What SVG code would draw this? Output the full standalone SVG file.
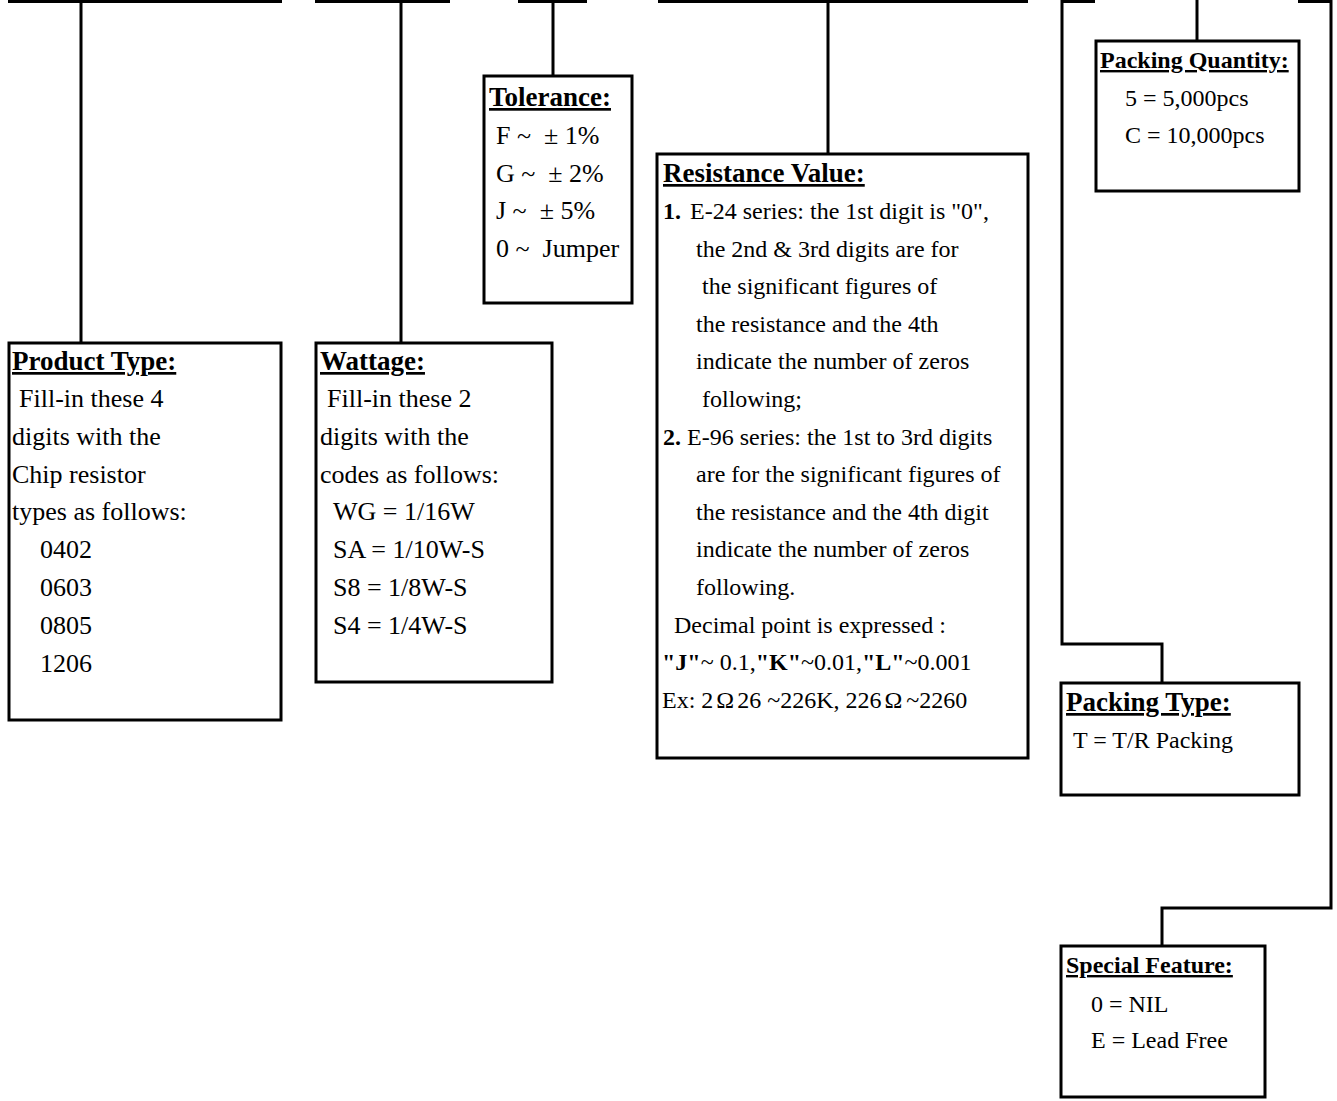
<svg xmlns="http://www.w3.org/2000/svg" width="1337" height="1101" viewBox="0 0 1337 1101">
<style>
text{font-family:"Liberation Serif","Times New Roman",serif;font-size:24px;fill:#000;white-space:pre}
.l{font-size:26px}
.t{font-weight:bold;font-size:27px;text-decoration:underline}
.ts{font-weight:bold;font-size:24px;text-decoration:underline}
.b{font-weight:bold}
.box{fill:#fff;stroke:#000;stroke-width:3}
.c{fill:none;stroke:#000;stroke-width:3}
</style>
<rect width="1337" height="1101" fill="#fff"/>
<g id="connectors">
<path class="c" d="M8,1.5H282M81,1.5V343"/>
<path class="c" d="M315,1.5H450M401,1.5V343"/>
<path class="c" d="M518,1.5H587M553,1.5V76"/>
<path class="c" d="M658,1.5H1028M828,1.5V154"/>
<path class="c" d="M1095,1.5H1062V644H1162V683"/>
<path class="c" d="M1197,0V41"/>
<path class="c" d="M1298,1.5H1331V908H1162V946"/>
</g>
<g id="product-type">
<rect class="box" x="9" y="343" width="272" height="377"/>
<text class="t" x="12" y="370">Product Type:</text>
<text class="l" x="19" y="407">Fill-in these 4</text>
<text class="l" x="12" y="445">digits with the</text>
<text class="l" x="12" y="483">Chip resistor</text>
<text class="l" x="12" y="520">types as follows:</text>
<text class="l" x="40" y="558">0402</text>
<text class="l" x="40" y="596">0603</text>
<text class="l" x="40" y="634">0805</text>
<text class="l" x="40" y="672">1206</text>
</g>
<g id="wattage">
<rect class="box" x="316" y="343" width="236" height="339"/>
<text class="t" x="320" y="370">Wattage:</text>
<text class="l" x="327" y="407">Fill-in these 2</text>
<text class="l" x="320" y="445">digits with the</text>
<text class="l" x="320" y="483">codes as follows:</text>
<text class="l" x="333" y="520">WG = 1/16W</text>
<text class="l" x="333" y="558">SA = 1/10W-S</text>
<text class="l" x="333" y="596">S8 = 1/8W-S</text>
<text class="l" x="333" y="634">S4 = 1/4W-S</text>
</g>
<g id="tolerance">
<rect class="box" x="484" y="76" width="148" height="227"/>
<text class="t" x="489" y="106">Tolerance:</text>
<text class="l" x="496" y="144">F ~  ± 1%</text>
<text class="l" x="496" y="182">G ~  ± 2%</text>
<text class="l" x="496" y="219">J ~  ± 5%</text>
<text class="l" x="496" y="257">0 ~  Jumper</text>
</g>
<g id="resistance-value">
<rect class="box" x="657" y="154" width="371" height="604"/>
<text class="t" x="663" y="182">Resistance Value:</text>
<text x="663" y="219"><tspan class="b">1.</tspan><tspan x="690">E-24 series: the 1st digit is "0",</tspan></text>
<text x="696" y="256.6">the 2nd &amp; 3rd digits are for</text>
<text x="702" y="294.2">the significant figures of</text>
<text x="696" y="331.8">the resistance and the 4th</text>
<text x="696" y="369.4">indicate the number of zeros</text>
<text x="702" y="407">following;</text>
<text x="663" y="444.6"><tspan class="b">2.</tspan><tspan x="687">E-96 series: the 1st to 3rd digits</tspan></text>
<text x="696" y="482.2">are for the significant figures of</text>
<text x="696" y="519.8">the resistance and the 4th digit</text>
<text x="696" y="557.4">indicate the number of zeros</text>
<text x="696" y="595">following.</text>
<text x="674" y="632.6">Decimal point is expressed :</text>
<text x="662" y="670.2"><tspan class="b">"J"</tspan>~ 0.1,<tspan class="b">"K"</tspan>~0.01,<tspan class="b">"L"</tspan>~0.001</text>
<text x="662" y="707.8">Ex: 2<tspan dx="3">Ω</tspan><tspan dx="3">26 ~226K, 226</tspan><tspan dx="3">Ω</tspan><tspan dx="4">~2260</tspan></text>
</g>
<g id="packing-quantity">
<rect class="box" x="1096" y="41" width="203" height="150"/>
<text class="ts" x="1100" y="68">Packing Quantity:</text>
<text x="1125" y="106">5 = 5,000pcs</text>
<text x="1125" y="143">C = 10,000pcs</text>
</g>
<g id="packing-type">
<rect class="box" x="1061" y="683" width="238" height="112"/>
<text class="t" x="1066" y="711">Packing Type:</text>
<text x="1073" y="748">T = T/R Packing</text>
</g>
<g id="special-feature">
<rect class="box" x="1061" y="946" width="204" height="151"/>
<text class="ts" x="1066" y="973">Special Feature:</text>
<text x="1091" y="1012">0 = NIL</text>
<text x="1091" y="1048">E = Lead Free</text>
</g>
</svg>
